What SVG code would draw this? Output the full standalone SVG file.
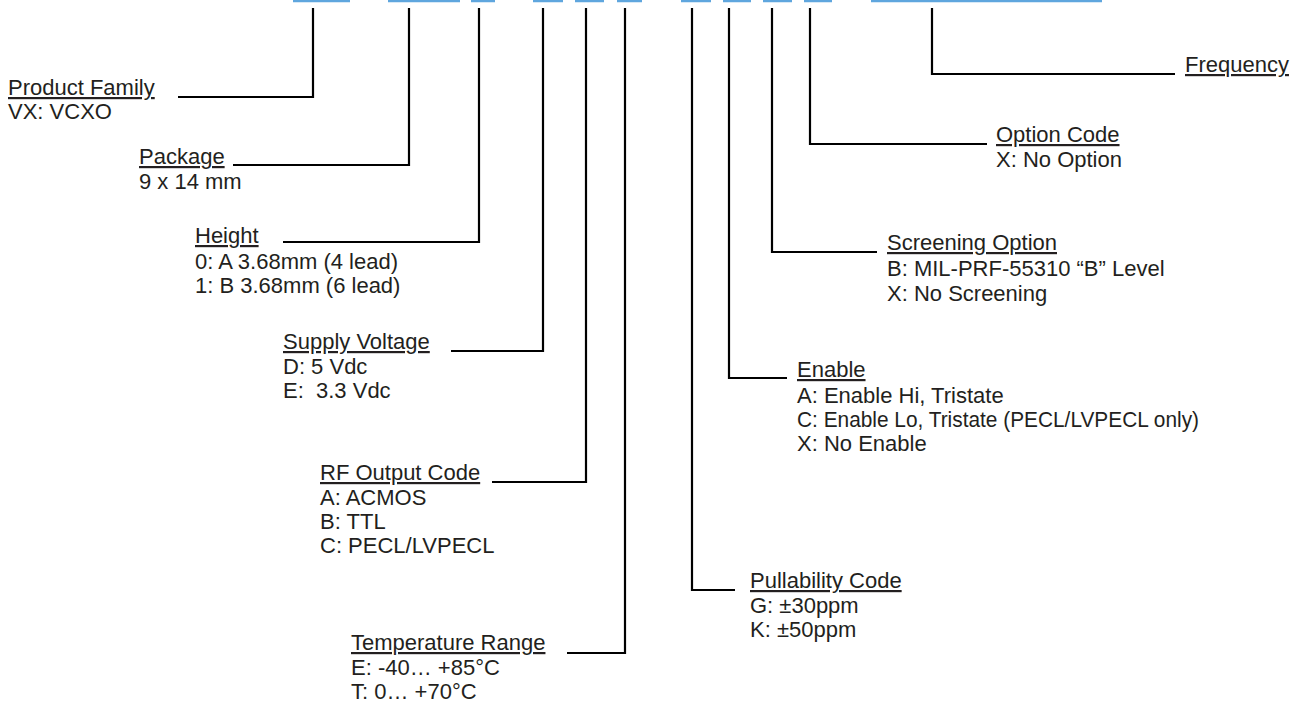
<svg xmlns="http://www.w3.org/2000/svg" width="1299" height="711" viewBox="0 0 1299 711">
<style>
text{font-family:"Liberation Sans",Arial,sans-serif;font-size:22px;fill:#231f20}
.t{text-decoration:underline}
.c{fill:none;stroke:#000;stroke-width:2.2}
.b{stroke:#5fa6de;stroke-width:2.5}
</style>
<rect width="1299" height="711" fill="#fff"/>
<g id="code-bars">
<line class="b" x1="293" y1="1" x2="350" y2="1"/>
<line class="b" x1="388" y1="1" x2="460" y2="1"/>
<line class="b" x1="471" y1="1" x2="495" y2="1"/>
<line class="b" x1="533" y1="1" x2="563" y2="1"/>
<line class="b" x1="575" y1="1" x2="604" y2="1"/>
<line class="b" x1="617" y1="1" x2="642" y2="1"/>
<line class="b" x1="681" y1="1" x2="711" y2="1"/>
<line class="b" x1="723" y1="1" x2="751" y2="1"/>
<line class="b" x1="763" y1="1" x2="792" y2="1"/>
<line class="b" x1="804" y1="1" x2="832" y2="1"/>
<line class="b" x1="871" y1="1" x2="1102" y2="1"/>
</g>
<g id="connectors">
<path class="c" d="M313,8V97H178"/>
<path class="c" d="M409,8V165H233"/>
<path class="c" d="M479,8V242H283"/>
<path class="c" d="M543,8V351H451"/>
<path class="c" d="M586,8V482H492"/>
<path class="c" d="M625,8V653H567"/>
<path class="c" d="M692,8V590H735"/>
<path class="c" d="M729,8V378H787"/>
<path class="c" d="M772,8V252H877"/>
<path class="c" d="M810,8V144H987"/>
<path class="c" d="M932,8V74H1175"/>
</g>
<g id="product-family">
<text class="t" x="8" y="95">Product Family</text>
<text x="8" y="119">VX: VCXO</text>
</g>
<g id="package">
<text class="t" x="139" y="164">Package</text>
<text x="139" y="189">9 x 14 mm</text>
</g>
<g id="height">
<text class="t" x="195" y="243">Height</text>
<text x="195" y="269">0: A 3.68mm (4 lead)</text>
<text x="195" y="293">1: B 3.68mm (6 lead)</text>
</g>
<g id="supply-voltage">
<text class="t" x="283" y="349">Supply Voltage</text>
<text x="283" y="374">D: 5 Vdc</text>
<text x="283" y="398" xml:space="preserve">E:  3.3 Vdc</text>
</g>
<g id="rf-output">
<text class="t" x="320" y="480">RF Output Code</text>
<text x="320" y="505">A: ACMOS</text>
<text x="320" y="529">B: TTL</text>
<text x="320" y="553">C: PECL/LVPECL</text>
</g>
<g id="temperature">
<text class="t" x="351" y="650">Temperature Range</text>
<text x="351" y="675">E: -40… +85°C</text>
<text x="351" y="699">T: 0… +70°C</text>
</g>
<g id="pullability">
<text class="t" x="750" y="588">Pullability Code</text>
<text x="750" y="613">G: ±30ppm</text>
<text x="750" y="637">K: ±50ppm</text>
</g>
<g id="enable">
<text class="t" x="797" y="377">Enable</text>
<text x="797" y="403">A: Enable Hi, Tristate</text>
<text x="797" y="427" textLength="402" lengthAdjust="spacingAndGlyphs">C: Enable Lo, Tristate (PECL/LVPECL only)</text>
<text x="797" y="451">X: No Enable</text>
</g>
<g id="screening">
<text class="t" x="887" y="250">Screening Option</text>
<text x="887" y="276">B: MIL-PRF-55310 “B” Level</text>
<text x="887" y="301">X: No Screening</text>
</g>
<g id="option-code">
<text class="t" x="996" y="142">Option Code</text>
<text x="996" y="167">X: No Option</text>
</g>
<g id="frequency">
<text class="t" x="1185" y="72">Frequency</text>
</g>
</svg>
